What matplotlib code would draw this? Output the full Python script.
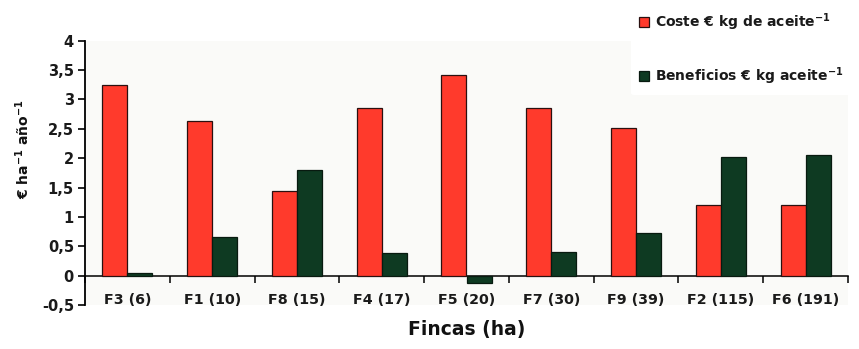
import matplotlib
matplotlib.use("Agg")
import matplotlib.pyplot as plt
import numpy as np
from matplotlib.transforms import blended_transform_factory

plt.rcParams['font.family'] = ['DejaVu Sans']
plt.rcParams['mathtext.default'] = 'regular'

fincas = ["F3 (6)", "F1 (10)", "F8 (15)", "F4 (17)", "F5 (20)",
          "F7 (30)", "F9 (39)", "F2 (115)", "F6 (191)"]
coste = [3.25, 2.63, 1.44, 2.86, 3.41, 2.86, 2.52, 1.20, 1.20]
beneficios = [0.05, 0.65, 1.80, 0.39, -0.13, 0.40, 0.73, 2.02, 2.05]
yticks = [-0.5, 0, 0.5, 1, 1.5, 2, 2.5, 3, 3.5, 4]
ytick_labels = ["-0,5", "0", "0,5", "1", "1,5", "2", "2,5", "3", "3,5", "4"]

fig = plt.figure(figsize=(8.59, 3.49), dpi=100)
ax = fig.add_axes([85 / 859, (349 - 305) / 349, (848 - 85) / 859, (305 - 40.7) / 349])
ax.set_facecolor('#fafaf8')
fig.patch.set_facecolor('white')

x = np.arange(len(fincas))
w = 0.295
ax.bar(x - w / 2, coste, w, color='#ff3a2c', edgecolor='#2a1010', linewidth=0.9,
       label='Coste € kg de aceite$^{-1}$', zorder=3)
ax.bar(x + w / 2, beneficios, w, color='#0e3a22', edgecolor='#081a10', linewidth=0.9,
       label='Beneficios € kg aceite$^{-1}$', zorder=3)

ax.set_xlim(-0.5, len(fincas) - 0.5)
ax.set_ylim(-0.5, 4)
ax.set_yticks(yticks)
ax.set_yticklabels(ytick_labels, fontsize=10.5, fontweight='bold', color='#1a1a1a')
ax.tick_params(axis='y', direction='out', length=5, width=1.2, pad=3)

# horizontal axis sits at zero, ticks between farms
ax.spines['bottom'].set_position(('data', 0))
ax.spines['top'].set_visible(False)
ax.spines['right'].set_visible(False)
ax.spines['left'].set_linewidth(1.3)
ax.spines['bottom'].set_linewidth(1.1)
ax.set_xticks(np.arange(len(fincas) + 1) - 0.5)
ax.set_xticklabels([])
ax.tick_params(axis='x', direction='out', length=5, width=1.1)

trans = blended_transform_factory(ax.transData, ax.transAxes)
for xi, lab in zip(x, fincas):
    ax.text(xi, 0.019, lab, transform=trans, ha='center', va='center',
            fontsize=10.3, fontweight='bold', color='#1a1a1a')

ax.set_ylabel('€ ha$^{-1}$ año$^{-1}$', fontsize=10,
              fontweight='bold', color='#111111')
ax.yaxis.set_label_coords(-0.07, 0.59)
fig.text((85 + 848) / 2 / 859, 1 - 329 / 349, 'Fincas (ha)', ha='center', va='center',
         fontsize=13.5, fontweight='bold', color='#111111')

leg = fig.legend(loc='upper left', bbox_to_anchor=(624 / 859, 1 + 4 / 349),
                 frameon=True, facecolor='white', edgecolor='white', framealpha=1,
                 prop={'size': 10, 'weight': 'bold'},
                 handlelength=0.7, handleheight=0.7, handletextpad=0.45,
                 labelspacing=2.35, borderpad=0.6)
leg.get_frame().set_linewidth(0)
for t in leg.get_texts():
    t.set_color('#1a1a1a')

fig.savefig('out.png', dpi=100)
